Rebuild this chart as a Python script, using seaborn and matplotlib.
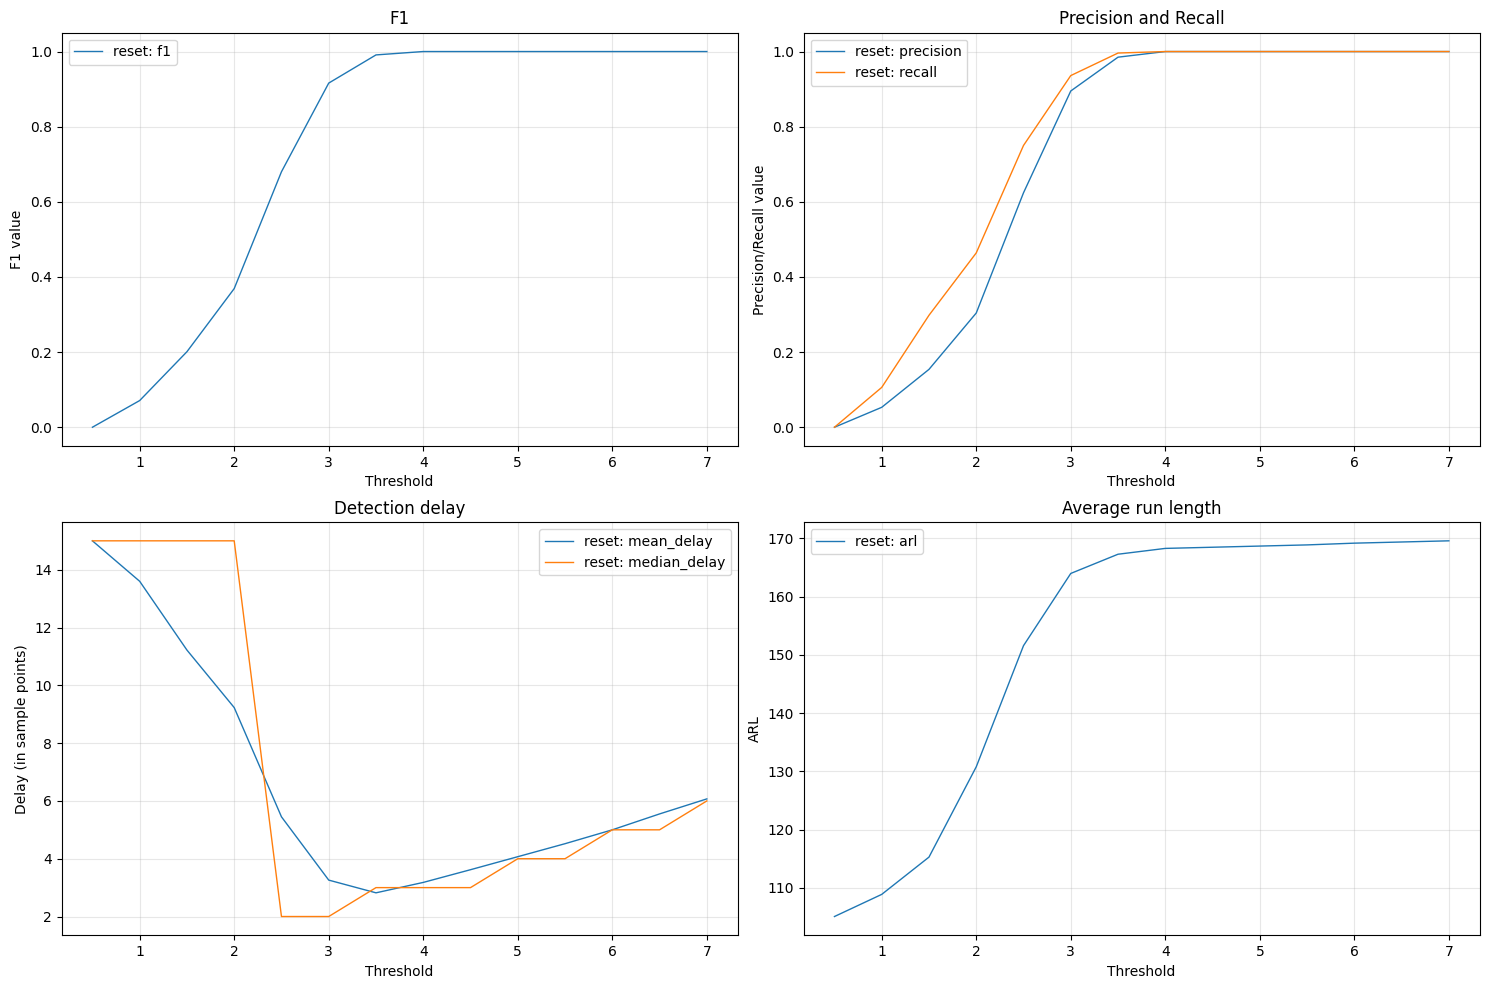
import matplotlib.pyplot as plt
import seaborn as sns

thresholds = [0.5, 1.0, 1.5, 2.0, 2.5, 3.0, 3.5, 4.0, 4.5, 5.0, 5.5, 6.0, 6.5, 7.0]

f1 = [0.0, 0.071, 0.201, 0.369, 0.680, 0.916, 0.991, 1.0, 1.0, 1.0, 1.0, 1.0, 1.0, 1.0]
precision = [0.0, 0.053, 0.154, 0.304, 0.624, 0.895, 0.985, 1.0, 1.0, 1.0, 1.0, 1.0, 1.0, 1.0]
recall = [0.0, 0.106, 0.298, 0.464, 0.750, 0.936, 0.996, 1.0, 1.0, 1.0, 1.0, 1.0, 1.0, 1.0]
mean_delay = [15.0, 13.6, 11.22, 9.23, 5.45, 3.26, 2.82, 3.18, 3.62, 4.07, 4.52, 5.0, 5.55, 6.07]
median_delay = [15, 15, 15, 15, 2, 2, 3, 3, 3, 4, 4, 5, 5, 6]
arl = [105.1, 108.9, 115.3, 130.8, 151.6, 164.0, 167.3, 168.3, 168.5, 168.7, 168.9, 169.2, 169.4, 169.6]

fig, axes = plt.subplots(2, 2, figsize=(14.9, 9.89), dpi=100)

# F1
ax = axes[0, 0]
sns.lineplot(x=thresholds, y=f1, ax=ax, label="reset: f1", linewidth=1)
ax.set_title("F1")
ax.set_xlabel("Threshold")
ax.set_ylabel("F1 value")
ax.legend(loc="upper left")
ax.grid(alpha=0.3)

# precision / recall
ax = axes[0, 1]
sns.lineplot(x=thresholds, y=precision, ax=ax, label="reset: precision", linewidth=1)
sns.lineplot(x=thresholds, y=recall, ax=ax, label="reset: recall", linewidth=1)
ax.set_title("Precision and Recall")
ax.set_xlabel("Threshold")
ax.set_ylabel("Precision/Recall value")
ax.legend(loc="upper left")
ax.grid(alpha=0.3)

# delay
ax = axes[1, 0]
sns.lineplot(x=thresholds, y=mean_delay, ax=ax, label="reset: mean_delay", linewidth=1)
sns.lineplot(x=thresholds, y=median_delay, ax=ax, label="reset: median_delay", linewidth=1)
ax.set_title("Detection delay")
ax.set_xlabel("Threshold")
ax.set_ylabel("Delay (in sample points)")
ax.legend(loc="upper right")
ax.grid(alpha=0.3)

# ARL
ax = axes[1, 1]
sns.lineplot(x=thresholds, y=arl, ax=ax, label="reset: arl", linewidth=1)
ax.set_title("Average run length")
ax.set_xlabel("Threshold")
ax.set_ylabel("ARL")
ax.legend(loc="upper left")
ax.grid(alpha=0.3)

plt.tight_layout(pad=0.75)
plt.savefig("out.png")
